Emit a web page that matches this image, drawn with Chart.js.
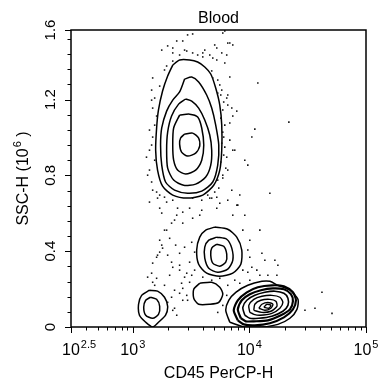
<!DOCTYPE html>
<html>
<head>
<meta charset="utf-8">
<title>Blood</title>
<script src="https://cdn.jsdelivr.net/npm/chart.js@4/dist/chart.umd.min.js"></script>
<style>
  html, body { margin: 0; padding: 0; background: #fff; }
  canvas { display: block; }
</style>
</head>
<body>
<canvas id="plot" width="380" height="381"></canvas>
<script>
// CD45 PerCP-H (log) vs SSC-H (10^6) -- contour levels
const granulocyteRings = [
  [[2200,1.382],[2520,1.409],[3070,1.409],[3600,1.398],[4140,1.372],[4660,1.335],[5140,1.261],[5570,1.171],[5790,1.065],[5790,0.933],[5570,0.828],[4940,0.748],[3980,0.696],[2950,0.680],[2200,0.696],[1800,0.743],[1630,0.828],[1570,0.933],[1600,1.050],[1660,1.145],[1800,1.245],[1990,1.324]],
  [[2780,1.308],[3200,1.319],[3670,1.293],[4300,1.224],[4750,1.155],[5140,1.065],[5460,0.960],[5350,0.854],[4850,0.765],[3900,0.717],[2950,0.706],[2280,0.722],[1910,0.765],[1770,0.854],[1730,0.960],[1770,1.050],[1950,1.139],[2200,1.197],[2520,1.240]],
  [[2840,1.203],[3200,1.192],[3670,1.155],[4140,1.092],[4570,1.013],[4750,0.933],[4660,0.854],[4220,0.791],[3460,0.754],[2730,0.748],[2240,0.775],[1990,0.838],[1950,0.933],[1990,1.028],[2150,1.113],[2470,1.176]],
  [[2520,1.118],[3070,1.123],[3600,1.108],[3900,1.050],[4060,0.960],[3900,0.880],[3460,0.828],[2840,0.807],[2420,0.828],[2240,0.880],[2200,0.960],[2240,1.050]],
  [[2780,1.018],[3260,1.023],[3670,0.997],[3750,0.955],[3460,0.917],[2950,0.902],[2620,0.923],[2520,0.965],[2570,0.997]]
];
const monocyteRings = [
  [[5040,0.527],[6520,0.516],[7790,0.474],[8600,0.406],[8440,0.331],[7200,0.284],[5570,0.268],[4300,0.284],[3670,0.331],[3530,0.406],[3750,0.474],[4220,0.511]],
  [[5250,0.474],[6390,0.463],[7060,0.416],[7200,0.352],[6520,0.305],[5350,0.289],[4480,0.310],[4140,0.363],[4140,0.421],[4480,0.458]],
  [[5250,0.437],[6020,0.426],[6390,0.384],[6270,0.342],[5570,0.321],[4850,0.337],[4660,0.379],[4750,0.416]]
];
const smallRings = [
  [[3750,0.231],[4750,0.236],[5570,0.210],[5910,0.173],[5460,0.130],[4570,0.120],[3670,0.120],[3330,0.152],[3330,0.199]]
];
const debrisRings = [
  [[1390,0.194],[1630,0.189],[1870,0.157],[1990,0.109],[1910,0.062],[1660,0.025],[1480,0],[1290,0.025],[1140,0.062],[1120,0.120],[1190,0.167]],
  [[1420,0.157],[1600,0.146],[1700,0.109],[1660,0.067],[1480,0.046],[1290,0.062],[1240,0.104],[1290,0.141]]
];
const lymphocyteRings = [
  [[6790,0.025],[6270,0.088],[6650,0.141],[7640,0.183],[9690,0.220],[12800,0.241],[14980,0.241],[17550,0.220],[22260,0.194],[26080,0.146],[25570,0.093],[22260,0.046],[17550,0.014],[12800,0],[9130,0]],
  [[7950,0.035],[7340,0.088],[7950,0.141],[9500,0.183],[11810,0.210],[15580,0.220],[19770,0.215],[23620,0.183],[25070,0.141],[23620,0.093],[19770,0.051],[14980,0.020],[11130,0.009],[8950,0.014]],
  [[8440,0.046],[7950,0.093],[8600,0.141],[10080,0.173],[12540,0.194],[15900,0.204],[19770,0.199],[22700,0.173],[23620,0.136],[22260,0.093],[18630,0.062],[14400,0.035],[10910,0.030],[9310,0.030]],
  [[9130,0.062],[8780,0.104],[9500,0.141],[11130,0.167],[13570,0.183],[16540,0.189],[19770,0.178],[21400,0.152],[21400,0.114],[19370,0.083],[15580,0.057],[12050,0.046],[10080,0.046]],
  [[10080,0.077],[9880,0.114],[10910,0.146],[12800,0.162],[15580,0.167],[18260,0.157],[19370,0.130],[18260,0.099],[15580,0.072],[12290,0.062],[10910,0.067]],
  [[10910,0.088],[11130,0.120],[12540,0.141],[14980,0.146],[16870,0.136],[17210,0.109],[15280,0.083],[12800,0.077]],
  [[12050,0.099],[12800,0.120],[14400,0.130],[15900,0.120],[15280,0.099],[13570,0.088]],
  [[13300,0.104],[14120,0.120],[15280,0.114],[14690,0.099]]
];
// dense outer band of the lymphocyte cluster is drawn heavier
const lymphocyteRingWidths = [1.5, 2.2, 2.2, 1.6, 1.4, 1.4, 1.4, 1.4];

// single events outside the contours
const events = [
  [2950,1.541],[3260,1.546],[6150,1.562],[2680,1.509],[2380,1.509],[1990,1.483],[1770,1.461],[2200,1.446],
  [2520,1.435],[2900,1.456],[3260,1.446],[3600,1.435],[3980,1.446],[4570,1.435],[5250,1.472],[6520,1.498],
  [7200,1.488],[5790,1.446],[6390,1.435],[5250,1.409],[4750,1.351],[4850,1.314],[5350,1.303],[5570,1.277],
  [5790,1.250],[5350,1.234],[6390,1.208],[6520,1.171],[7060,1.155],[7790,1.139],[1480,1.314],[1450,1.250],
  [1700,1.271],[1540,1.208],[1480,1.155],[1600,1.113],[1540,1.065],[1870,1.356],[1950,1.377],[2200,1.403],
  [7200,1.113],[6790,1.076],[5910,1.551],[5040,1.488],[6790,1.498],[4140,1.461],[3980,1.425],[4850,1.419],
  [6150,1.393],[6790,1.319],[11810,1.287],[6520,1.224],[21800,1.081],[11130,1.044],[10490,1.002],[5910,1.028],
  [6790,0.986],[7490,0.933],[9130,0.880],[9690,0.854],[5910,0.801],[5350,0.775],[6390,0.896],[6150,0.949],
  [2200,1.472],[2780,1.461],[1450,1.197],[1390,1.039],[1480,1.002],[1310,0.896],[1390,0.828],[1340,0.801],
  [1450,0.765],[1390,0.659],[1630,0.680],[1700,0.627],[1950,0.659],[2200,0.669],[2420,0.627],[2680,0.606],
  [3260,0.680],[3900,0.669],[4390,0.696],[4750,0.680],[5250,0.685],[5570,0.653],[5910,0.786],[6520,0.828],
  [7200,0.933],[7790,0.643],[3900,0.616],[5250,0.627],[2380,0.590],[1770,0.601],[2150,0.548],[1950,0.511],
  [1700,0.458],[1770,0.432],[1700,0.395],[1600,0.368],[1480,0.337],[1450,0.284],[1340,0.263],[1600,0.257],
  [1540,0.220],[2150,0.342],[2200,0.315],[2520,0.326],[2780,0.263],[2620,0.231],[2280,0.194],[2150,0.157],
  [1990,0.130],[2520,0.178],[2680,0.141],[2280,0.099],[2380,0.062],[1870,0.511],[2280,0.564],[2680,0.548],
  [3260,0.574],[1800,0.416],[1630,0.379],[2520,0.389],[2780,0.421],[3200,0.447],[3390,0.395],[2520,0.300],
  [2900,0.284],[3070,0.236],[2680,0.204],[2900,0.167],[2200,0.088],[2950,0.141],[5570,0.257],[6520,0.220],
  [6390,0.167],[5910,0.114],[3980,0.263],[4750,0.247],[1480,0.236],[12800,0.389],[13570,0.352],[16540,0.352],
  [10490,0.315],[11580,0.300],[14400,0.273],[17210,0.273],[10080,0.247],[8270,0.231],[41900,0.183],[29960,0.088],
  [36500,0.099],[51100,0.072],[5350,0.077],[7950,0.643],[7200,0.590],[12290,0.511],[17550,0.326],[10080,0.368],
  [3200,0.273],[14980,0.706],[9130,0.590],[8780,0.511],[10080,0.458],[9690,0.406],
  [5680,1.224],[6020,1.187],[5910,1.145],[5680,1.102],[6150,1.065],[6020,1.002],[5790,0.970],[6020,0.907],
  [5680,0.870],[6270,0.838],[5460,0.733],[5040,0.712],[4570,0.680],[1450,0.960],[1390,0.933],[1540,0.880],
  [1480,0.722],[1600,0.712],[1700,0.696],[1870,0.685],[2070,0.468],[2330,0.432],[1990,0.379],[3070,0.342],
  [3390,0.300],[1870,0.220],[2070,0.273],[8780,0.300],[7490,0.247],[9690,0.289],[12290,0.273],[8270,0.696],
  [7060,0.722],[6520,0.669],[3750,0.590],[3070,0.627]
];

const xMajorTicks = [10 ** 2.5, 1e3, 1e4, 1e5];
const xTickExponents = ['2.5', '3', '4', '5'];
const xMinorTicks = [400, 500, 600, 700, 800, 900, 2000, 3000, 4000, 5000, 6000, 7000, 8000, 9000,
  20000, 30000, 40000, 50000, 60000, 70000, 80000, 90000];
const yMajorTicks = [0, 0.4, 0.8, 1.2, 1.6];
const yTickLabels = ['0', '0.4', '0.8', '1.2', '1.6'];
const yMinorTicks = [0.08, 0.16, 0.24, 0.32, 0.48, 0.56, 0.64, 0.72, 0.88, 0.96, 1.04, 1.12,
  1.28, 1.36, 1.44, 1.52];

const FONT = '"Liberation Sans", Arial, sans-serif';

const toPoints = ring => ring.concat([ring[0]]).map(([x, y]) => ({ x, y }));

const ringDataset = (ring, width) => ({
  data: toPoints(ring),
  showLine: true,
  borderColor: '#000',
  borderWidth: width,
  pointRadius: 0,
  tension: 0.25,
  fill: false
});

const ringDatasets = [
  ...[...granulocyteRings, ...monocyteRings, ...smallRings, ...debrisRings].map(r => ringDataset(r, 1.5)),
  ...lymphocyteRings.map((r, i) => ringDataset(r, lymphocyteRingWidths[i]))
];

// draws the frame, ticks and all the text (superscripts need manual layout)
const flowAxes = {
  id: 'flowAxes',
  afterDraw(chart) {
    const { ctx, chartArea: a, scales: { x, y } } = chart;
    ctx.save();
    ctx.strokeStyle = '#000';
    ctx.fillStyle = '#000';

    ctx.lineWidth = 1.5;
    ctx.strokeRect(a.left, a.top, a.right - a.left, a.bottom - a.top);

    // edge ticks sit on the frame
    const snapX = px => (px - a.left < 8 ? a.left : px);
    const snapY = py => (py - a.top < 8 ? a.top : py);

    ctx.lineWidth = 1;
    ctx.beginPath();
    xMajorTicks.forEach(v => {
      const px = Math.round(snapX(x.getPixelForValue(v))) + 0.5;
      ctx.moveTo(px, a.bottom); ctx.lineTo(px, a.bottom + 6);
    });
    xMinorTicks.forEach(v => {
      const px = Math.round(x.getPixelForValue(v)) + 0.5;
      ctx.moveTo(px, a.bottom); ctx.lineTo(px, a.bottom + 3.5);
    });
    yMajorTicks.forEach(v => {
      const py = Math.round(snapY(y.getPixelForValue(v))) + 0.5;
      ctx.moveTo(a.left, py); ctx.lineTo(a.left - 6, py);
    });
    yMinorTicks.forEach(v => {
      const py = Math.round(y.getPixelForValue(v)) + 0.5;
      ctx.moveTo(a.left, py); ctx.lineTo(a.left - 3.5, py);
    });
    ctx.stroke();

    // x tick labels: 10^n
    ctx.textBaseline = 'alphabetic';
    ctx.textAlign = 'left';
    xMajorTicks.forEach((v, i) => {
      const px = snapX(x.getPixelForValue(v));
      ctx.font = '16px ' + FONT;
      const wBase = ctx.measureText('10').width;
      ctx.font = '11px ' + FONT;
      const wExp = ctx.measureText(xTickExponents[i]).width;
      const start = i === 0 ? a.left - 9 : px - (wBase + wExp + 1) / 2;
      ctx.font = '16px ' + FONT;
      ctx.fillText('10', start, 355);
      ctx.font = '11px ' + FONT;
      ctx.fillText(xTickExponents[i], start + wBase + 1, 348);
    });

    // y tick labels, rotated
    ctx.font = '15px ' + FONT;
    ctx.textAlign = 'center';
    yMajorTicks.forEach((v, i) => {
      const py = snapY(y.getPixelForValue(v));
      ctx.save();
      ctx.translate(55, py);
      ctx.rotate(-Math.PI / 2);
      ctx.fillText(yTickLabels[i], 0, 0);
      ctx.restore();
    });

    // title and axis titles
    ctx.font = '16px ' + FONT;
    ctx.fillText('Blood', (a.left + a.right) / 2, 23);
    ctx.fillText('CD45 PerCP-H', (a.left + a.right) / 2, 378);

    ctx.save();
    ctx.translate(28, (a.top + a.bottom) / 2);
    ctx.rotate(-Math.PI / 2);
    ctx.textAlign = 'left';
    const partA = 'SSC-H (10', sup = '6', partB = ' )';
    ctx.font = '16px ' + FONT;
    const wA = ctx.measureText(partA).width, wB = ctx.measureText(partB).width;
    ctx.font = '11px ' + FONT;
    const wS = ctx.measureText(sup).width;
    let cx = -(wA + wS + wB + 1) / 2;
    ctx.font = '16px ' + FONT;
    ctx.fillText(partA, cx, 0);
    cx += wA + 1;
    ctx.font = '11px ' + FONT;
    ctx.fillText(sup, cx, -7);
    cx += wS;
    ctx.font = '16px ' + FONT;
    ctx.fillText(partB, cx, 0);
    ctx.restore();

    ctx.restore();
  }
};

new Chart(document.getElementById('plot'), {
  type: 'scatter',
  data: {
    datasets: [
      {
        data: events.map(([x, y]) => ({ x, y })),
        pointStyle: 'rect',
        pointRadius: 1.1,
        pointBorderWidth: 0,
        backgroundColor: '#111',
        borderColor: '#111'
      },
      ...ringDatasets
    ]
  },
  options: {
    responsive: false,
    animation: false,
    devicePixelRatio: 1,
    layout: { padding: { top: 30, right: 14, bottom: 0, left: 0 } },
    plugins: {
      legend: { display: false },
      title: { display: false },
      tooltip: { enabled: false }
    },
    scales: {
      x: {
        type: 'logarithmic',
        min: 295,
        max: 100000,
        ticks: { display: false },
        grid: { display: false },
        border: { display: false },
        afterFit: s => { s.height = 54; }
      },
      y: {
        type: 'linear',
        min: 0,
        max: 1.567,
        ticks: { display: false },
        grid: { display: false },
        border: { display: false },
        afterFit: s => { s.width = 71; }
      }
    }
  },
  plugins: [flowAxes]
});
</script>
</body>
</html>
